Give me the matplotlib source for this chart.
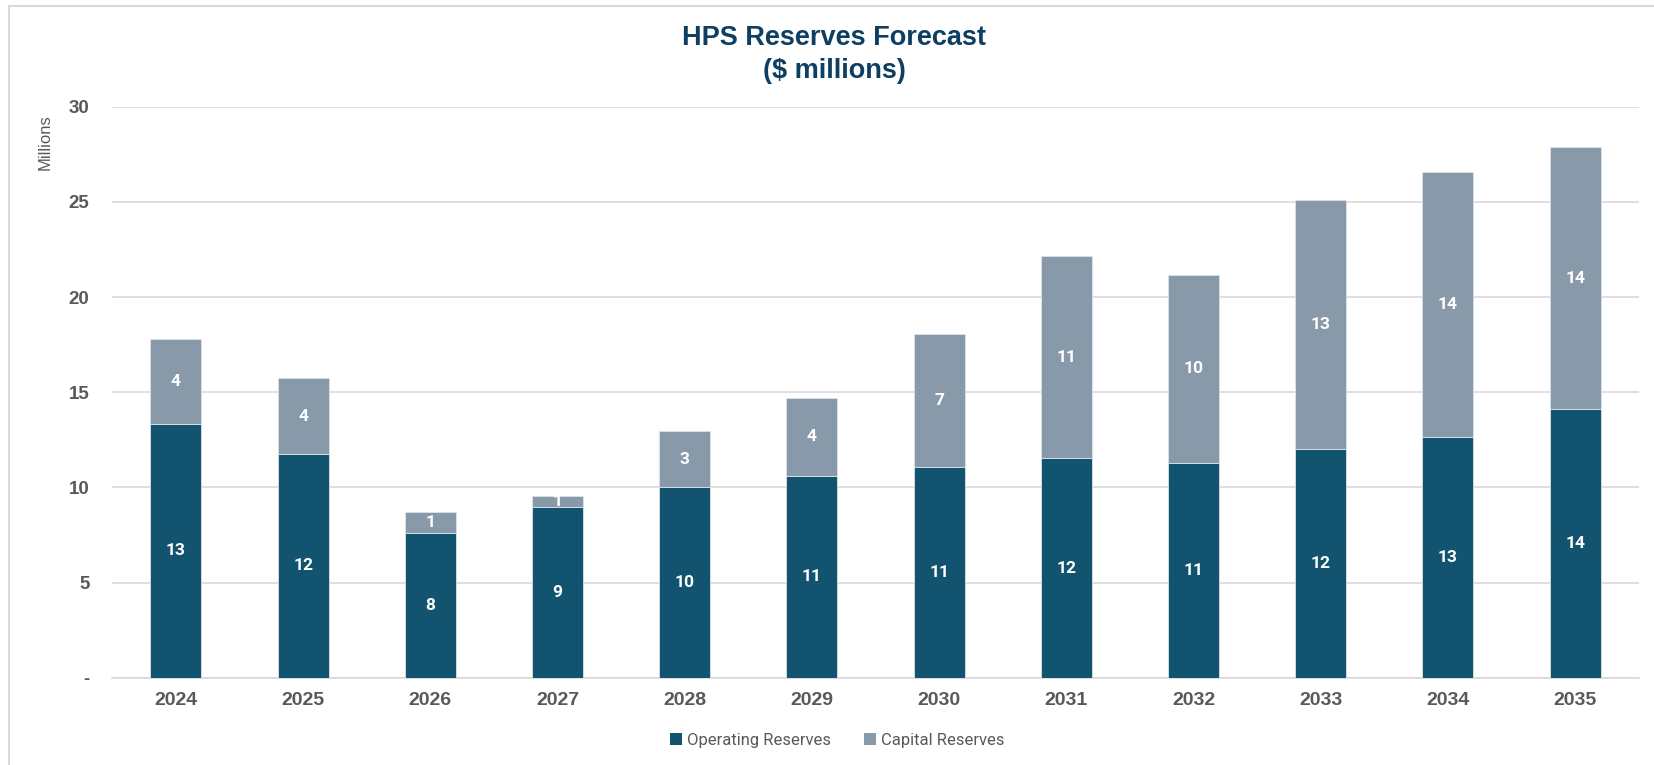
import matplotlib
matplotlib.use("Agg")
import matplotlib.pyplot as plt
from matplotlib.lines import Line2D
from matplotlib.patches import Patch
from matplotlib.ticker import FuncFormatter, MultipleLocator
import numpy as np

years = ["2024", "2025", "2026", "2027", "2028", "2029",
         "2030", "2031", "2032", "2033", "2034", "2035"]
operating = [13.33, 11.74, 7.61, 8.97, 10.02, 10.60,
             11.07, 11.52, 11.29, 12.01, 12.65, 14.13]
capital = [4.48, 3.99, 1.08, 0.58, 2.93, 4.10,
           6.99, 10.62, 9.89, 13.08, 13.92, 13.73]
series_names = ["Operating Reserves", "Capital Reserves"]

OP_COLOR = "#125470"
CAP_COLOR = "#8899AA"
GRID = "#D9D9D9"
TEXT_GRAY = "#595959"
TITLE_COLOR = "#0C3F62"

W, H = 1654, 765
fig = plt.figure(figsize=(W / 100, H / 100), dpi=100)
fig.patch.set_facecolor("white")

# plot area in pixel coordinates
left, right, top, bottom = 112.3, 1638.7, 106.7, 677.7
ax = fig.add_axes([left / W, 1 - bottom / H, (right - left) / W, (bottom - top) / H])

x = np.arange(len(years))
bar_w = 0.40
ax.bar(x, operating, width=bar_w, color=OP_COLOR, edgecolor="#DCE3EA",
       linewidth=0.6, zorder=3)
ax.bar(x, capital, width=bar_w, bottom=operating, color=CAP_COLOR,
       edgecolor="#DCE3EA", linewidth=0.6, zorder=3)

# value labels in the middle of each segment
for xi, op, cap in zip(x, operating, capital):
    ax.text(xi, op / 2, f"{op:.0f}", ha="center", va="center", color="white",
            fontsize=12.5, fontweight="bold", family="Roboto", zorder=4)
    ax.text(xi, op + cap / 2, f"{cap:.0f}", ha="center", va="center",
            color="white", fontsize=12.5, fontweight="bold", family="Roboto",
            zorder=4)

ax.set_xlim(-0.5, len(years) - 0.5)
ax.set_ylim(0, 30)
ax.yaxis.set_major_locator(MultipleLocator(5))
ax.yaxis.set_major_formatter(FuncFormatter(lambda v, _: "-" if v == 0 else f"{v:.0f}"))
ax.set_xticks(x)
ax.set_xticklabels(years)

ax.grid(axis="y", color=GRID, linewidth=1.2, zorder=0)
ax.set_axisbelow(True)
for s in ["top", "right", "left"]:
    ax.spines[s].set_visible(False)
ax.spines["bottom"].set_color(GRID)
ax.spines["bottom"].set_linewidth(1.2)
ax.spines["bottom"].set_zorder(2)

ax.tick_params(axis="both", length=0)
ax.tick_params(axis="y", pad=16.5, labelsize=13.5, labelcolor=TEXT_GRAY)
ax.tick_params(axis="x", pad=10, labelsize=14, labelcolor=TEXT_GRAY)
for lab in ax.get_xticklabels() + ax.get_yticklabels():
    lab.set_fontweight("bold")
    lab.set_family("Liberation Sans")

fig.text(45.5 / W, 1 - 142.5 / H, "Millions", rotation=90, ha="center",
         va="center", fontsize=12, color=TEXT_GRAY, family="Liberation Sans")

fig.text(834 / W, 1 - 38 / H, "HPS Reserves Forecast", ha="center", va="center",
         fontsize=19.5, fontweight="bold", color=TITLE_COLOR, family="Liberation Sans")
fig.text(834 / W, 1 - 71 / H, "($ millions)", ha="center", va="center",
         fontsize=19.5, fontweight="bold", color=TITLE_COLOR, family="Liberation Sans")

handles = [Patch(facecolor=OP_COLOR), Patch(facecolor=CAP_COLOR)]
fig.legend(handles, series_names, loc="center", bbox_to_anchor=(837.5 / W, 1 - 740 / H),
           ncol=2, frameon=False, handlelength=0.7, handleheight=0.7,
           handletextpad=0.3, columnspacing=2.0,
           prop={"family": "Roboto", "size": 12}, labelcolor=TEXT_GRAY)

# chart border (left and top edges)
fig.add_artist(Line2D([8.5 / W, 8.5 / W], [0, 1 - 6 / H], color=GRID, linewidth=1.5))
fig.add_artist(Line2D([8.5 / W, 1], [1 - 6 / H, 1 - 6 / H], color=GRID, linewidth=1.5))

fig.savefig("out.png", dpi=100)
